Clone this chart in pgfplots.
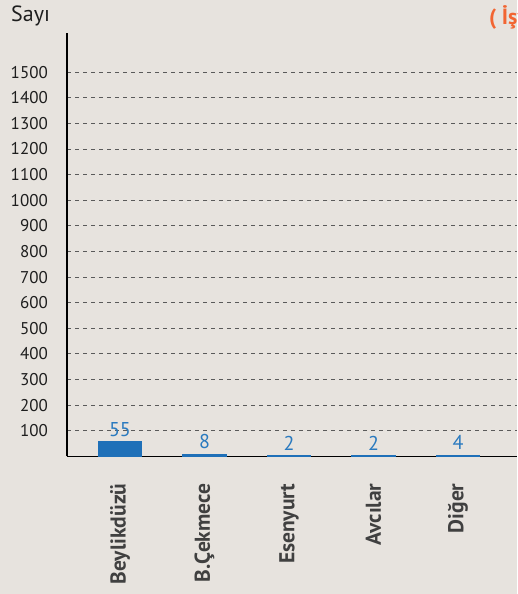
\documentclass[border=0pt]{standalone}
\usepackage{pgfplots}
\pgfplotsset{compat=1.18}
\usepackage{fontspec}
\setmainfont{PT Sans}
\definecolor{bg}{RGB}{231,227,222}
\definecolor{barblue}{RGB}{31,112,184}
\definecolor{lblblue}{RGB}{42,122,191}
\definecolor{orangetxt}{RGB}{242,101,50}
\definecolor{gridc}{RGB}{90,90,90}
\definecolor{txt}{RGB}{30,30,30}
\begin{document}
\begin{tikzpicture}[x=1pt,y=1pt]
\path[use as bounding box, fill=bg] (0,0) rectangle (517,594);
\clip (0,0) rectangle (517,594);
\node[anchor=base west, inner sep=0pt, font=\fontsize{22}{24}\selectfont, text=txt] at (11,572.3) {Sayı};
\node[anchor=base west, inner sep=0pt, font=\fontsize{22}{24}\selectfont\bfseries, text=orangetxt] at (489,569) {( İşyeri Sayısı )};
\begin{axis}[
  at={(67pt,137.7pt)}, anchor=south west,
  scale only axis, width=450pt, height=423pt,
  xmin=-0.627, xmax=4.698, ymin=0, ymax=1652,
  axis lines=left,
  axis line style={black, line width=1.3pt, -},
  xtick=data,
  xticklabels={Beylikdüzü, B.Çekmece, Esenyurt, Avcılar, Diğer},
  ytick={100,200,...,1500},
  major tick length=0pt,
  ymajorgrids,
  grid style={gridc, dashed, line width=0.9pt, dash pattern=on 4pt off 4pt},
  yticklabel style={font=\fontsize{17}{19}\selectfont, text=txt, inner sep=0pt, xshift=-19pt},
  xticklabel style={font=\fontsize{21.5}{23}\selectfont\bfseries, text=txt!85!white, inner sep=0pt, yshift=-27pt, rotate=90, anchor=east},
  /pgf/number format/assume math mode=true,
  /pgf/number format/1000 sep={},
  ybar, bar width=43pt,
  nodes near coords,
  every node near coord/.append style={font=\fontsize{20}{22}\selectfont, text=lblblue, inner sep=0pt, yshift=5pt},
  clip=false,
]
\addplot[fill=barblue, draw=barblue, line width=1.5pt, bar shift=0pt] coordinates {(0,55) (1,8) (2,2) (3,2) (4,4)};
\end{axis}
\end{tikzpicture}
\end{document}
